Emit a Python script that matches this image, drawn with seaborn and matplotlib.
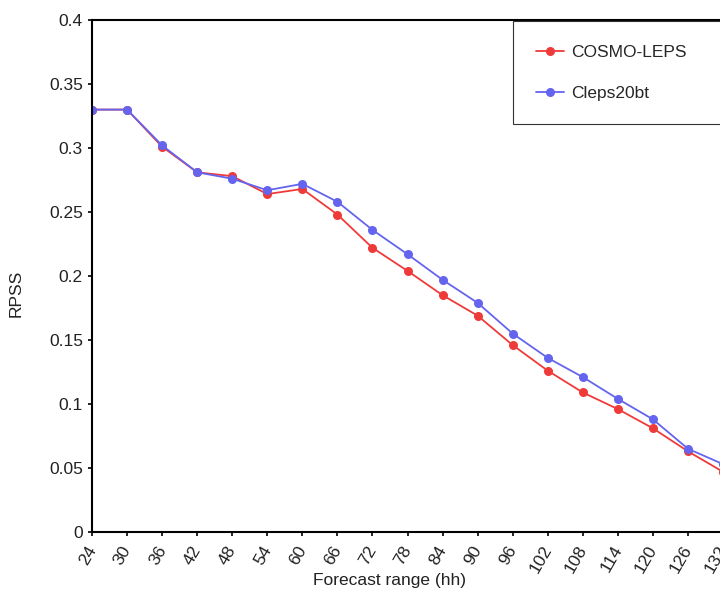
import numpy as np
import pandas as pd
import matplotlib
matplotlib.use('Agg')
import matplotlib.pyplot as plt
from matplotlib.ticker import FuncFormatter, MultipleLocator
from matplotlib.transforms import ScaledTranslation
import seaborn as sns

# Forecast lead times (hours)
lead_hours = [24, 30, 36, 42, 48, 54, 60, 66, 72, 78, 84, 90, 96, 102, 108, 114, 120, 126, 132]

# RPSS per system
cosmo_leps = [0.330, 0.330, 0.301, 0.281, 0.278, 0.264, 0.268, 0.248, 0.222, 0.204,
              0.185, 0.169, 0.146, 0.126, 0.109, 0.096, 0.081, 0.063, 0.047]
cleps20bt = [0.330, 0.330, 0.302, 0.281, 0.276, 0.267, 0.272, 0.258, 0.236, 0.217,
             0.197, 0.179, 0.155, 0.136, 0.121, 0.104, 0.088, 0.065, 0.053]

series_names = ['COSMO-LEPS', 'Cleps20bt']
series_colors = {'COSMO-LEPS': '#ef3a3a', 'Cleps20bt': '#6464ee'}

df = pd.DataFrame({
    'hours': lead_hours * 2,
    'rpss': cosmo_leps + cleps20bt,
    'model': [series_names[0]] * len(lead_hours) + [series_names[1]] * len(lead_hours),
})

sns.set_style('ticks')
plt.rcParams['font.family'] = ['Liberation Sans', 'DejaVu Sans']
plt.rcParams['font.size'] = 12.5

W, H = 720, 592
fig = plt.figure(figsize=(W / 100, H / 100), dpi=100)

# the original chart is cropped on the right, so the axes run past the figure edge
x_min, x_max = 24, 138
px_per_hour = (688 - 92) / (126 - 24)
ax_left, ax_right = 92, 92 + (x_max - x_min) * px_per_hour
ax_top, ax_bottom = 20, 532
ax = fig.add_axes([ax_left / W, 1 - ax_bottom / H,
                   (ax_right - ax_left) / W, (ax_bottom - ax_top) / H])

for name in series_names:
    sub = df[df['model'] == name]
    sns.lineplot(data=sub, x='hours', y='rpss', color=series_colors[name], label=name,
                 marker='o', markersize=6.5, markeredgewidth=0, linewidth=1.3, ax=ax)

ax.set_xlim(x_min, x_max)
ax.set_ylim(0, 0.4)
ax.xaxis.set_major_locator(MultipleLocator(6))
ax.yaxis.set_major_locator(MultipleLocator(0.05))
ax.yaxis.set_major_formatter(FuncFormatter(lambda v, p: f'{v:g}'))

for side in ['left', 'bottom', 'top']:
    ax.spines[side].set_linewidth(1.5)
    ax.spines[side].set_color('black')
ax.spines['right'].set_visible(False)

ax.tick_params(axis='both', direction='out', length=3, width=1.2, colors='black',
               labelsize=12.5, labelcolor='#222222')
ax.tick_params(axis='y', pad=3.5)
ax.tick_params(axis='x', pad=5)
# nudge rotated labels left so their top end sits at the tick
shift = ScaledTranslation(-6 / 100, 0, fig.dpi_scale_trans)
for lbl in ax.get_xticklabels():
    lbl.set_rotation(60)
    lbl.set_ha('right')
    lbl.set_va('top')
    lbl.set_rotation_mode('anchor')
    lbl.set_transform(lbl.get_transform() + shift)

ax.set_xlabel('Forecast range (hh)', fontsize=12.5, color='#222222')
ax.set_ylabel('RPSS', fontsize=12.5, color='#222222')
ax_w = ax_right - ax_left
ax.xaxis.set_label_coords((389.5 - ax_left) / ax_w, (ax_bottom - 573) / (ax_bottom - ax_top))
ax.yaxis.set_label_coords((24 - ax_left) / ax_w, (ax_bottom - 293) / (ax_bottom - ax_top))

handles, labels = ax.get_legend_handles_labels()
leg = ax.legend(handles, labels, loc='upper left', mode='expand',
                bbox_to_anchor=(513 / W, 1 - 124 / H, (800 - 513) / W, 103 / H),
                bbox_transform=fig.transFigure, fontsize=12.5, frameon=True,
                fancybox=False, framealpha=1, edgecolor='#333333', borderpad=1.35,
                labelspacing=1.49, handlelength=1.6, handletextpad=0.4,
                borderaxespad=0)
leg.get_frame().set_linewidth(0.8)

fig.savefig('out.png', dpi=100)
